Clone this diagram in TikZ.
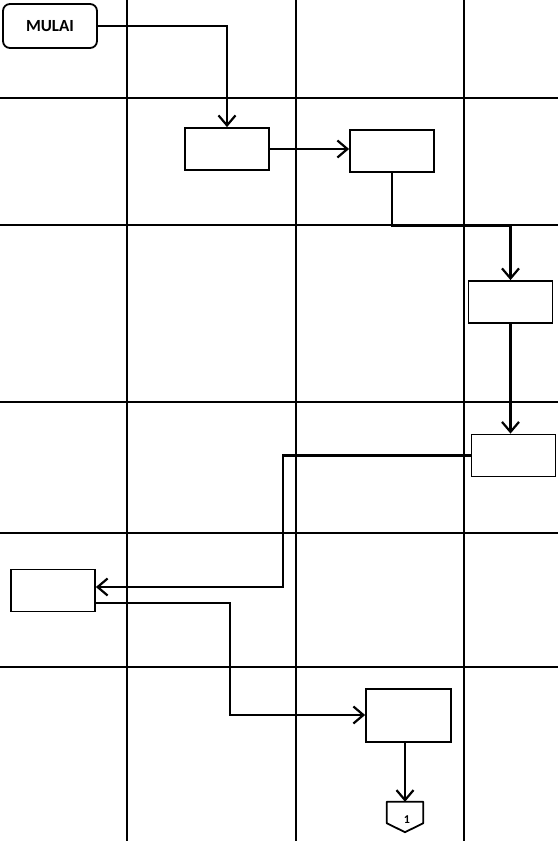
\documentclass[tikz,border=0pt]{standalone}
\usepackage{fontspec}
\setmainfont{Carlito}
\usetikzlibrary{arrows.meta}
\begin{document}
\begin{tikzpicture}[x=1pt,y=-1pt,
  grid/.style={line width=2.2pt},
  box/.style={draw,line width=1.8pt,minimum width=84pt,minimum height=42pt,inner sep=0pt},
  startbox/.style={draw,line width=1.8pt,rounded corners=7pt,minimum width=94pt,minimum height=44pt,inner sep=0pt,font=\bfseries\fontsize{17}{19}\selectfont},
  conn/.style={line width=2.2pt,-{Straight Barb[length=10pt,width=17pt,line width=2.2pt]}}]
\useasboundingbox (0,0) rectangle (558,841);
% grid
\foreach \x in {127,296,464} \draw[grid] (\x,0) -- (\x,841);
\foreach \y in {98,225,402,533,667} \draw[grid] (0,\y) -- (558,\y);
% nodes
\node[startbox] (mulai) at (50,26) {MULAI};
\node[box] (a) at (227,149) {};
\node[box] (b) at (392,151) {};
\node[box] (c) at (510.5,302) {};
\node[box] (d) at (513.5,455.5) {};
\node[box] (e) at (53,590.5) {};
\node[box,minimum width=85pt,minimum height=53pt] (f) at (408.5,715.5) {};
\node[minimum width=36pt,minimum height=30pt,inner sep=0pt] (off) at (405,817) {};
\draw[line width=1.8pt,line join=round] (off.north west) -- (off.north east) -- ([yshift=9pt]off.south east) -- (off.south) -- ([yshift=9pt]off.south west) -- cycle;
\node[font=\bfseries\fontsize{12}{13}\selectfont] (one) at (407,820) {1};
% connectors
\draw[conn] (mulai.east) -| (a.north);
\draw[conn] (a.east) -- (a.east -| b.west);
\draw[conn] (b.south) -- (b.south |- 0,226) -| (c.north);
\draw[conn] (c.south) -- (c.south |- d.north);
\draw[conn] (d.west) -| (283,587) -- (e.east |- 0,587);
\draw[conn] (e.east |- 0,603) -| (230,715) -- (f.west |- 0,715);
\draw[conn] (f.south -| 405,0) -- (off.north);
\end{tikzpicture}
\end{document}
